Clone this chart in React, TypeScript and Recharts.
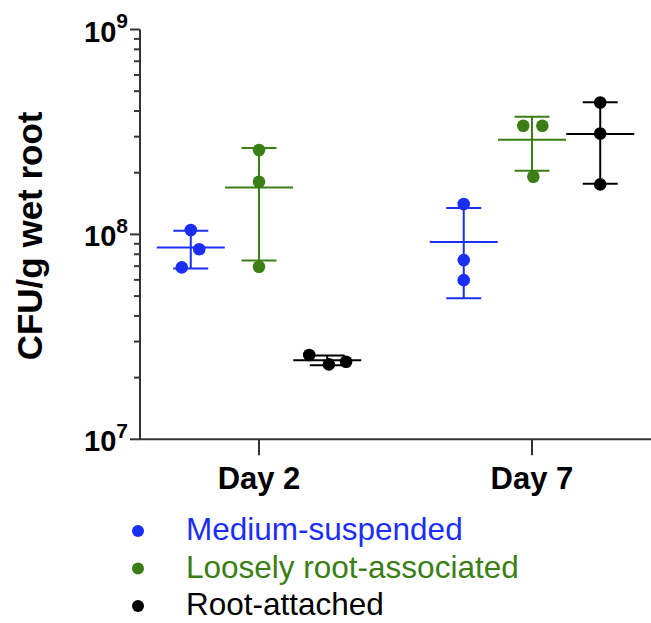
import React from 'react';
import { ScatterChart, Scatter, XAxis, YAxis, ErrorBar } from 'recharts';

// ---------- data ----------
const categories = ['Day 2', 'Day 7'];
const categoryPositions = [1, 2];

const seriesNames = ['Medium-suspended', 'Loosely root-associated', 'Root-attached'];
const seriesColors = ['#1b2ef6', '#3b7e15', '#000000'];
const groupOffsets = [-0.25, 0, 0.25];

// replicate CFU/g values, [Day 2, Day 7]
const mediumValues = [
  [1.05e8, 8.47e7, 6.9e7],
  [1.406e8, 7.49e7, 5.98e7],
];
const looselyValues = [
  [2.58e8, 1.806e8, 6.95e7],
  [3.39e8, 3.39e8, 1.91e8],
];
const attachedValues = [
  [2.577e7, 2.322e7, 2.391e7],
  [4.4e8, 3.11e8, 1.754e8],
];

// horizontal jitter of replicate dots (category units), [Day 2, Day 7]
const mediumJitter = [
  [0, 0.031, -0.033],
  [0, 0, 0],
];
const looselyJitter = [
  [0, 0, 0],
  [-0.032, 0.038, 0.005],
];
const attachedJitter = [
  [-0.066, 0.006, 0.069],
  [0, 0, 0],
];

const yMajorTicks = [1e7, 1e8, 1e9];
const yMajorExponents = ['7', '8', '9'];
const yMinorMultipliers = [2, 3, 4, 5, 6, 7, 8, 9];
const yLabel = 'CFU/g wet root';

// ---------- helpers ----------
const font = '"Liberation Sans", Arial, Helvetica, sans-serif';
const axisColor = '#333333';

const allValues = [mediumValues, looselyValues, attachedValues];
const allJitter = [mediumJitter, looselyJitter, attachedJitter];

const mean = (a: number[]) => a.reduce((s, v) => s + v, 0) / a.length;
const sd = (a: number[]) => {
  const m = mean(a);
  return Math.sqrt(a.reduce((s, v) => s + (v - m) * (v - m), 0) / (a.length - 1));
};

const pointData = allValues.map((series, si) =>
  series.flatMap((vals, di) =>
    vals.map((v, k) => ({
      x: categoryPositions[di] + groupOffsets[si] + allJitter[si][di][k],
      y: v,
    }))
  )
);

const summaryData = allValues.map((series, si) =>
  series.map((vals, di) => ({
    x: categoryPositions[di] + groupOffsets[si],
    y: mean(vals),
    err: sd(vals),
  }))
);

const yTicks: number[] = [];
yMajorTicks.forEach((t, i) => {
  yTicks.push(t);
  if (i < yMajorTicks.length - 1) yMinorMultipliers.forEach((m) => yTicks.push(t * m));
});

const YTick = (props: any) => {
  const { x, y, payload } = props;
  const idx = yMajorTicks.findIndex((t) => Math.abs(t - payload.value) < 1);
  const isMajor = idx >= 0;
  return (
    <g>
      <line x1={x - (isMajor ? 10 : 6)} x2={x} y1={y} y2={y} stroke={axisColor} strokeWidth={2} />
      {isMajor && (
        <text x={x - 12} y={y + 12} textAnchor="end" fontSize={29} fontWeight="bold" fill="#000" fontFamily={font}>
          10
          <tspan fontSize={21} dy={-13.5}>
            {yMajorExponents[idx]}
          </tspan>
        </text>
      )}
    </g>
  );
};

const XTick = (props: any) => {
  const { x, y, payload } = props;
  const idx = categoryPositions.indexOf(payload.value);
  return (
    <text x={x} y={y + 34} textAnchor="middle" fontSize={31} fontWeight="bold" fill="#000" fontFamily={font}>
      {categories[idx]}
    </text>
  );
};

const dotShape = (color: string) => (props: any) => (
  <circle cx={props.cx} cy={props.cy} r={6.3} fill={color} />
);

const meanShape = (color: string) => (props: any) => (
  <line x1={props.cx - 34} x2={props.cx + 34} y1={props.cy} y2={props.cy} stroke={color} strokeWidth={2} />
);

const YLabelContent = (props: any) => {
  const vb = props.viewBox || { x: 0, y: 0, width: 0, height: 0 };
  const cx = vb.x + 42;
  const cy = vb.y + vb.height / 2 + 1.5;
  return (
    <text
      x={cx}
      y={cy}
      transform={`rotate(-90, ${cx}, ${cy})`}
      textAnchor="middle"
      fontSize={35}
      fontWeight="bold"
      fill="#000"
      fontFamily={font}
    >
      {yLabel}
    </text>
  );
};

const LegendBlock = () => (
  <g>
    {seriesNames.map((name, i) => (
      <g key={name}>
        <circle cx={138} cy={531 + i * 37.5} r={6} fill={seriesColors[i]} />
        <text x={186} y={540.3 + i * 37.5} fontSize={31.5} fill={seriesColors[i]} fontFamily={font}>
          {name}
        </text>
      </g>
    ))}
  </g>
);

export default function App() {
  return (
    <div style={{ position: 'absolute', left: 0, top: 0, width: 651, height: 623, background: '#fff' }}>
      <ScatterChart width={651} height={623} margin={{ top: 29.5, right: 0, bottom: 0, left: 0 }}>
        <XAxis
          type="number"
          dataKey="x"
          domain={[0.564, 2.436]}
          ticks={categoryPositions}
          allowDataOverflow
          height={183.7}
          tickSize={16}
          tickMargin={0}
          tickLine={{ stroke: axisColor, strokeWidth: 2 }}
          axisLine={{ stroke: axisColor, strokeWidth: 2 }}
          tick={<XTick />}
        />
        <YAxis
          type="number"
          dataKey="y"
          scale="log"
          domain={[1e7, 1e9]}
          allowDataOverflow
          ticks={yTicks}
          interval={0}
          width={140}
          tickSize={0}
          tickMargin={0}
          tickLine={false}
          axisLine={{ stroke: axisColor, strokeWidth: 2 }}
          tick={<YTick />}
          label={{ value: yLabel, content: YLabelContent }}
        />
        {seriesNames.map((name, i) => (
          <Scatter
            key={name + '-summary'}
            name={name + ' mean'}
            data={summaryData[i]}
            shape={meanShape(seriesColors[i])}
            isAnimationActive={false}
          >
            <ErrorBar dataKey="err" direction="y" width={17.5} stroke={seriesColors[i]} strokeWidth={2} isAnimationActive={false} />
          </Scatter>
        ))}
        {seriesNames.map((name, i) => (
          <Scatter
            key={name}
            name={name}
            data={pointData[i]}
            shape={dotShape(seriesColors[i])}
            isAnimationActive={false}
          />
        ))}
        <LegendBlock />
      </ScatterChart>
    </div>
  );
}
